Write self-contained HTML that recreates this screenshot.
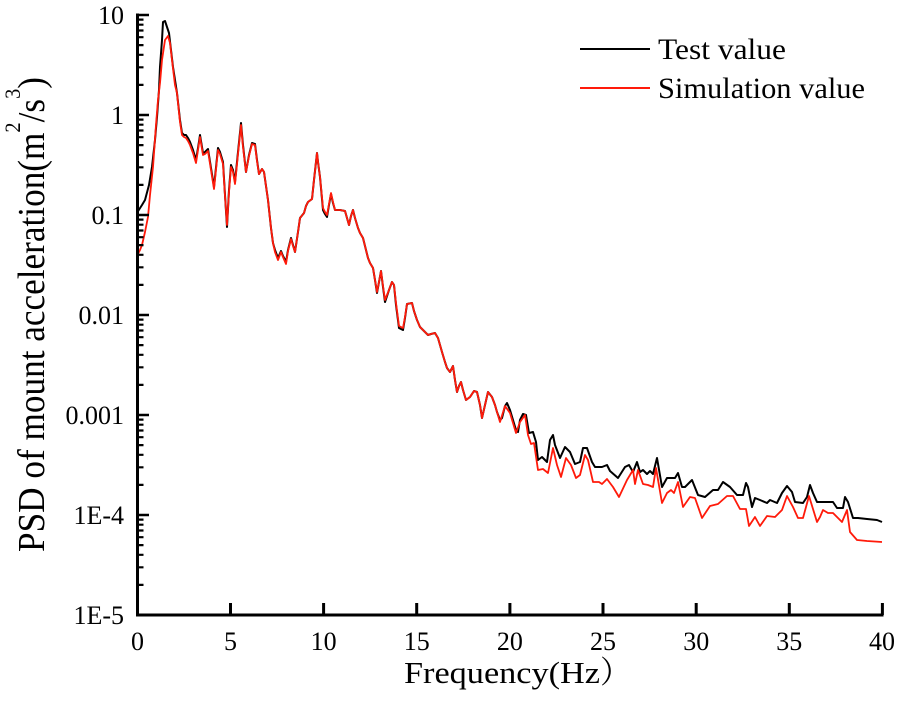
<!DOCTYPE html>
<html>
<head>
<meta charset="utf-8">
<style>
html,body{margin:0;padding:0;background:#fff;}
svg{display:block;}
text{font-family:"Liberation Serif","Noto Serif CJK SC",serif;fill:#000;}
</style>
</head>
<body>
<svg width="900" height="707" viewBox="0 0 900 707" xmlns="http://www.w3.org/2000/svg">
<rect width="900" height="707" fill="#fff"/>

<!-- data: test value -->
<polyline fill="none" stroke="#000" stroke-width="2" stroke-linejoin="round" points="
137.5,212 142,205 145,200 149,185 152,167 155,140 157,117 159,90 160,67 162,40 163,22 165,21 167,27 169,33 171,50 173,67 175,80 177,93 180,120 182,133 184,135 186,135 188,138 190,142 193,150 196,160 198,148 200,135 203,153 205,152 208,149 211,168 214,187 218,148 220,152 223,162 225,195 227,227 229,190 231,165 233,170 235,182 238,152 241,123 243,145 246,172 249,155 252,143 255,144 257,160 259,174 262,169 264,172 268,200 271,228 273,243 275,250 278,258 281,251 283,256 286,262 288,250 291,238 293,245 295,252 298,232 300,218 304,213 306,206 308,202 312,199 314,180 317,153 318,162 320,177 323,210 325,214 327,217 329,205 331,194 333,203 335,210 340,210 345,211 347,218 349,225 351,216 353,210 355,218 358,228 360,233 363,238 365,246 368,258 370,263 373,268 375,280 377,293 379,282 381,271 383,287 385,302 389,290 392,282 394,285 396,305 399,328 403,330 405,318 407,304 412,303 414,311 417,320 420,327 424,331 428,335 431,334 435,333 438,338 440,345 442,352 445,362 447,368 450,372 453,366 455,380 457,392 459,386 461,382 463,390 466,400 470,397 474,391 477,392 480,405 482,418 485,405 488,392 492,397 495,405 497,412 500,420 502,418 505,406 507,403 510,410 513,420 516,430 518,432 520,420 523,414 526,415 529,433 533,432 536,442 538,460 542,457 545,460 547,462 550,440 553,435 555,445 560,458 565,447 570,452 575,464 580,462 583,448 587,448 592,462 595,467 602,467 607,465 610,471 618,478 625,467 629,465 633,472 637,462 640,472 643,470 647,474 650,471 653,474 657,458 662,487 667,478 675,478 678,473 682,487 685,487 692,480 698,495 705,497 713,490 718,490 723,482 730,487 737,495 743,495 746,483 748,487 752,507 755,498 760,500 767,503 770,500 777,503 782,493 787,486 792,492 795,502 803,503 807,497 810,485 813,493 817,502 833,502 837,508 843,508 845,497 848,502 853,518 858,518 867,519 877,520 882,522"/>

<!-- data: simulation value -->
<polyline fill="none" stroke="#ff1a0a" stroke-width="1.8" stroke-linejoin="round" points="
137.5,255 140,250 142,245 145,232 148,217 150,195 153,167 156,125 158,100 160,83 162,60 165,40 168,36 170,43 172,60 175,85 177,93 180,122 182,135 184,137 186,138 188,141 190,145 193,153 196,163 198,150 200,137 203,155 205,154 208,151 211,170 214,189 218,150 220,154 223,164 225,196 227,225 229,192 231,167 233,172 235,184 238,154 241,125 243,147 246,172 249,156 252,144 255,145 257,161 259,174 262,169 264,172 268,200 271,228 273,243 275,252 278,260 281,252 283,257 286,264 288,251 291,239 293,246 295,252 298,232 300,218 304,213 306,206 308,202 312,199 314,180 317,153 318,162 320,177 323,208 325,212 327,215 329,204 331,193 333,202 335,210 340,210 345,211 347,218 349,225 351,216 353,210 355,218 358,228 360,233 363,238 365,246 368,258 370,263 373,268 375,280 377,292 379,282 381,271 383,286 385,300 389,290 392,282 394,285 396,303 399,326 403,328 405,317 407,304 412,303 414,311 417,320 420,327 424,331 428,335 431,334 435,333 438,338 440,345 442,352 445,362 447,368 450,372 453,366 455,380 457,392 459,386 461,382 463,390 466,400 470,397 474,391 477,392 480,405 482,418 485,405 488,392 492,397 495,405 497,412 500,422 505,406 510,413 516,433 520,422 525,415 528,435 531,444 534,443 538,470 543,469 548,473 553,448 557,465 561,477 566,458 571,465 576,478 580,475 585,455 588,460 593,482 599,482 602,484 607,479 613,487 619,497 627,480 633,470 635,484 638,470 643,484 648,485 653,487 656,468 662,503 667,493 671,490 674,493 678,482 683,507 690,497 695,498 702,518 710,506 718,504 727,496 733,496 740,509 746,509 749,526 755,517 760,526 767,516 775,517 782,510 787,496 793,507 798,518 803,518 809,496 817,522 820,517 823,510 828,513 833,513 842,522 847,510 850,532 857,540 867,541 882,542"/>

<!-- axes -->
<g stroke="#000" fill="none">
<line x1="137.5" y1="13.5" x2="137.5" y2="616.5" stroke-width="3"/>
<line x1="136" y1="615" x2="883.5" y2="615" stroke-width="3"/>
<path stroke-width="2.5" d="M137.5 15H149M137.5 115H149M137.5 215H149M137.5 315H149M137.5 415H149M137.5 515H149"/>
<path stroke-width="2.2" d="
M137.5 84.9h6M137.5 67.3h6M137.5 54.8h6M137.5 45.1h6M137.5 37.2h6M137.5 30.5h6M137.5 24.7h6M137.5 19.6h6
M137.5 184.9h6M137.5 167.3h6M137.5 154.8h6M137.5 145.1h6M137.5 137.2h6M137.5 130.5h6M137.5 124.7h6M137.5 119.6h6
M137.5 284.9h6M137.5 267.3h6M137.5 254.8h6M137.5 245.1h6M137.5 237.2h6M137.5 230.5h6M137.5 224.7h6M137.5 219.6h6
M137.5 384.9h6M137.5 367.3h6M137.5 354.8h6M137.5 345.1h6M137.5 337.2h6M137.5 330.5h6M137.5 324.7h6M137.5 319.6h6
M137.5 484.9h6M137.5 467.3h6M137.5 454.8h6M137.5 445.1h6M137.5 437.2h6M137.5 430.5h6M137.5 424.7h6M137.5 419.6h6
M137.5 584.9h6M137.5 567.3h6M137.5 554.8h6M137.5 545.1h6M137.5 537.2h6M137.5 530.5h6M137.5 524.7h6M137.5 519.6h6"/>
<path stroke-width="3" d="M230.5 615V603M323.6 615V603M416.7 615V603M509.9 615V603M603 615V603M696.2 615V603M789.3 615V603M882.4 615V603"/>
</g>

<!-- y tick labels -->
<g font-size="26" text-anchor="end">
<text x="124" y="24">10</text>
<text x="124" y="124">1</text>
<text x="124" y="224">0.1</text>
<text x="124" y="324">0.01</text>
<text x="124" y="424">0.001</text>
<text x="124" y="524">1E-4</text>
<text x="124" y="624">1E-5</text>
</g>

<!-- x tick labels -->
<g font-size="26" text-anchor="middle">
<text x="137.5" y="650">0</text>
<text x="230.5" y="650">5</text>
<text x="323.6" y="650">10</text>
<text x="416.7" y="650">15</text>
<text x="509.9" y="650">20</text>
<text x="603" y="650">25</text>
<text x="696.2" y="650">30</text>
<text x="789.3" y="650">35</text>
<text x="882" y="650">40</text>
</g>

<!-- x axis title -->
<text x="404" y="683" font-size="31" textLength="196" lengthAdjust="spacingAndGlyphs">Frequency(Hz</text>
<text x="600" y="683" font-size="31" style="font-family:'Noto Serif CJK SC','Noto Sans CJK SC',serif;">）</text>

<!-- y axis title -->
<text transform="translate(44,552) rotate(-90)" x="0" y="0" font-size="38" textLength="475" lengthAdjust="spacingAndGlyphs">PSD of mount acceleration(m<tspan font-size="22" dy="-24">2</tspan><tspan dy="24">/s</tspan><tspan font-size="22" dy="-24">3</tspan><tspan dy="24">)</tspan></text>

<!-- legend -->
<line x1="580" y1="49" x2="650" y2="49" stroke="#000" stroke-width="2"/>
<line x1="580" y1="88" x2="650" y2="88" stroke="#ff1a0a" stroke-width="2"/>
<text x="658" y="59" font-size="30" textLength="128" lengthAdjust="spacingAndGlyphs">Test value</text>
<text x="658" y="98" font-size="30" textLength="207" lengthAdjust="spacingAndGlyphs">Simulation value</text>
</svg>
</body>
</html>
